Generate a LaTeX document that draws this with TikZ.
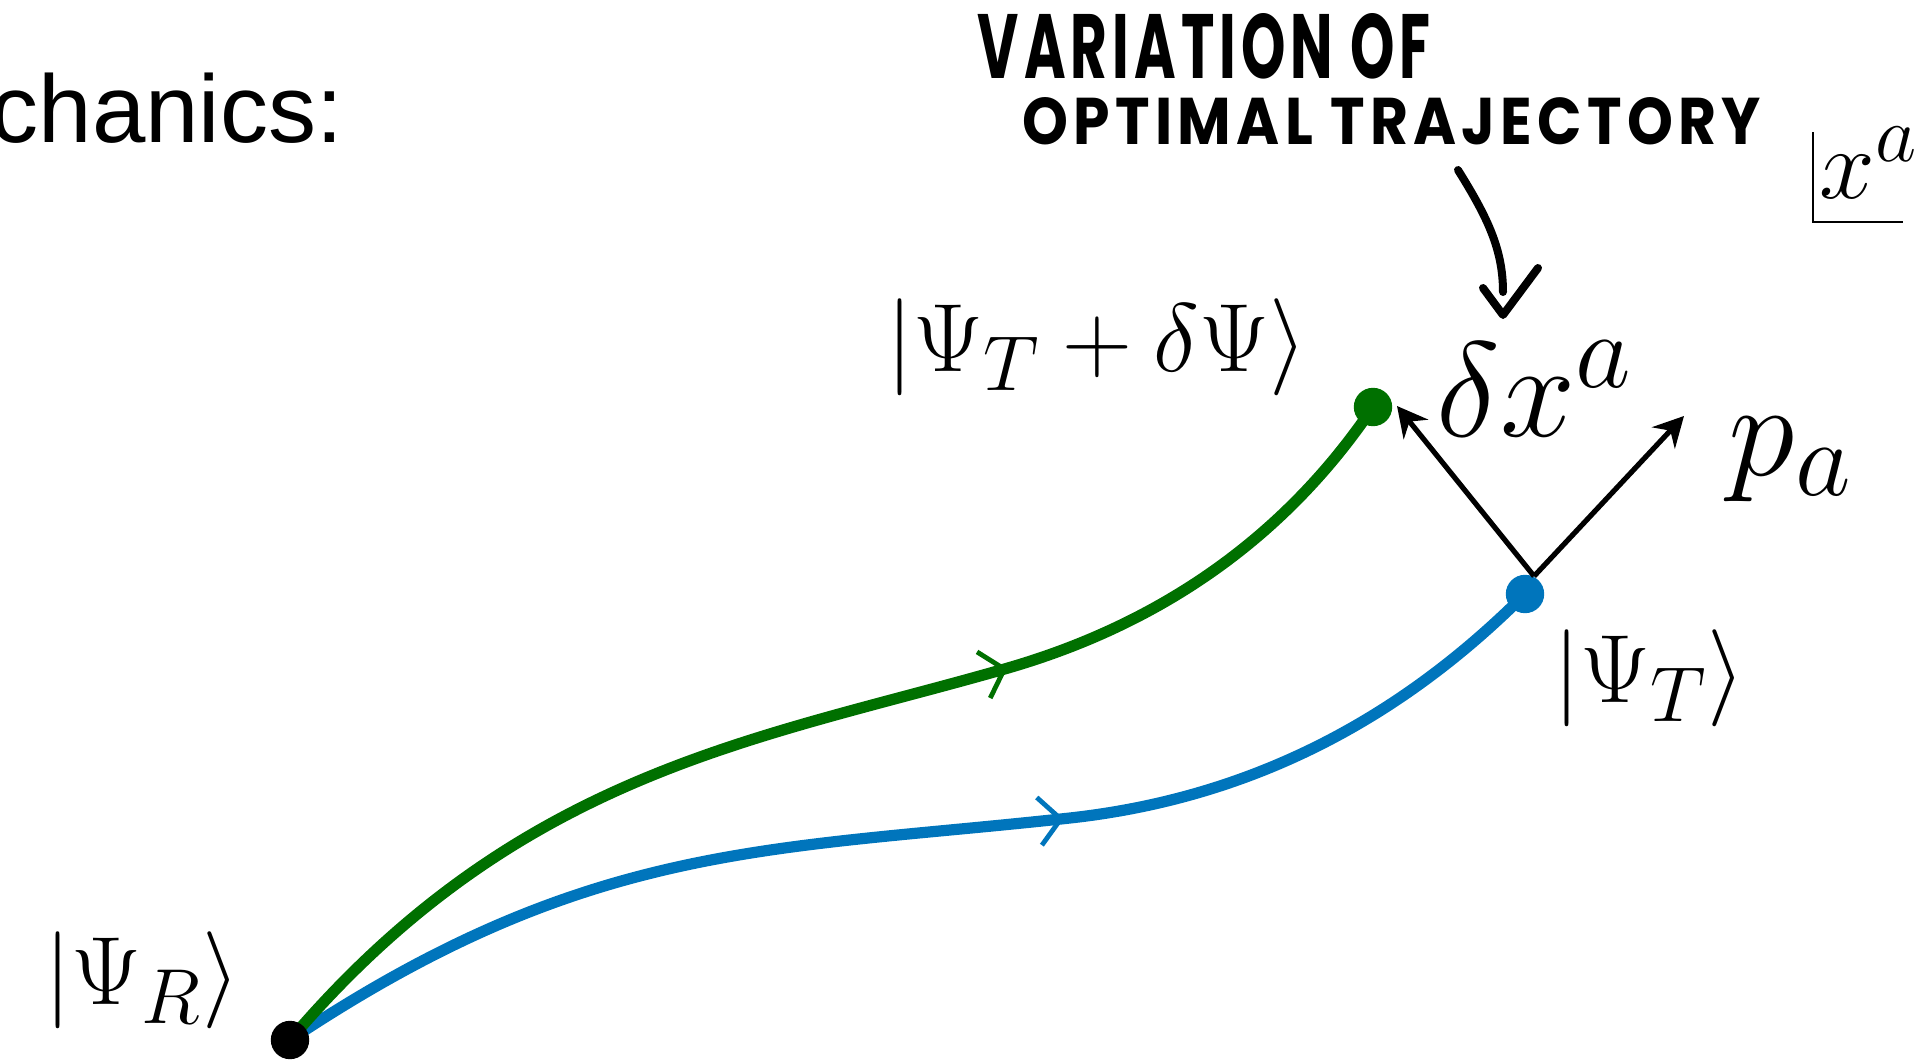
\RequirePackage{fix-cm}
\documentclass[tikz,border=0pt]{standalone}
\usepackage[no-math]{fontspec}
\usepackage{graphicx}
\newfontfamily\helv{Liberation Sans}
\newfontfamily\hwfont{Poppins}[LetterSpace=9]
\DeclareMathSizes{24.25}{24.25}{19.5}{14}
\DeclareMathSizes{25}{25}{20}{14.4}
\DeclareMathSizes{33.75}{33.75}{27}{19.4}
\usetikzlibrary{arrows.meta,decorations.markings,backgrounds}
\definecolor{trajgreen}{RGB}{0,112,0}
\definecolor{trajblue}{RGB}{0,117,188}
\tikzset{
  dot/.style={circle, fill=#1, inner sep=0pt, minimum size=9.6pt},
  traj/.style={line width=2.8pt, draw=#1},
  lbl/.style={inner sep=0pt, anchor=base west},
  vec/.style={line width=1.3pt, -{Stealth[length=7.5pt,width=7.8pt,inset=2.5pt]}},
  chevron/.style 2 args={postaction={decorate, decoration={markings,
      mark=at position #1 with {\draw[#2, line width=1.2pt] (-5.4pt,6pt) -- (0pt,0pt) -- (-5.4pt,-6pt);}}}},
  hand/.style={line width=2pt, line cap=round, line join=round},
  hwtext/.style={inner sep=0pt, anchor=south west},
}
\begin{document}
\begin{tikzpicture}[x=0.25pt,y=-0.25pt]
\useasboundingbox (0,0) rectangle (1932,1060);

% title fragment
\node[lbl, font=\helv\fontsize{24}{29}\selectfont] (title) at (-10,142) {chanics:};

% handwritten annotation
\node[hwtext] (hw1) at (977,80) {\resizebox{113.25pt}{16.25pt}{\hwfont\bfseries VARIATION OF}};
\node[hwtext] (hw2) at (1022,146) {\resizebox{184.5pt}{11.75pt}{\hwfont\bfseries OPTIMAL TRAJECTORY}};
\coordinate (hwa) at (1458,170);
\coordinate (hwb) at (1503,292);
\coordinate (hwv) at (1503,315);
\draw[hand] (hwa) .. controls (1488,218) and (1503,250) .. (hwb);
\draw[hand] (1483,288) -- (hwv) -- (1538,268);

% corner axis label
\node[lbl, font=\fontsize{25}{30}\selectfont] (xa) at (1819,198) {$x^a$};
\draw[line width=0.7pt] (1813,132) -- (1813,222) -- (1903,222);

% states
\node[dot=black] (r) at (290,1040) {};
\node[dot=trajgreen] (gt) at (1373,407) {};
\node[dot=trajblue] (bt) at (1525,594) {};

\begin{scope}[on background layer]
\draw[traj=trajblue, chevron={0.607}{trajblue}] (r.center) .. controls (590,840) and (770,851) .. (1070,818)
   .. controls (1270,796) and (1415,704) .. (bt.center);
\draw[traj=trajgreen, chevron={0.64}{trajgreen}] (r.center) .. controls (520,770) and (758,740) .. (1008,668)
   .. controls (1170,621) and (1290,530) .. (gt.center);
\end{scope}

% vectors
\coordinate (dxtip) at (1397,406);
\coordinate (patip) at (1684,416);
\draw[vec] (bt.63) -- (dxtip);
\draw[vec] (bt.63) -- (patip);

% labels
\node[lbl, font=\fontsize{24.25}{29}\selectfont] (psiR) at (44,1004) {$|\Psi_R\rangle$};
\node[lbl, font=\fontsize{24.25}{29}\selectfont] (psiT) at (1553,702) {$|\Psi_T\rangle$};
\node[lbl, font=\fontsize{24.25}{29}\selectfont] (psiTd) at (886,371) {$|\Psi_T+\delta\Psi\rangle$};
\node[lbl, font=\fontsize{33.75}{40}\selectfont] (dx) at (1436,436) {$\delta x^a$};
\node[lbl, font=\fontsize{33.75}{40}\selectfont] (pa) at (1728,475) {$p_a$};
\end{tikzpicture}
\end{document}
